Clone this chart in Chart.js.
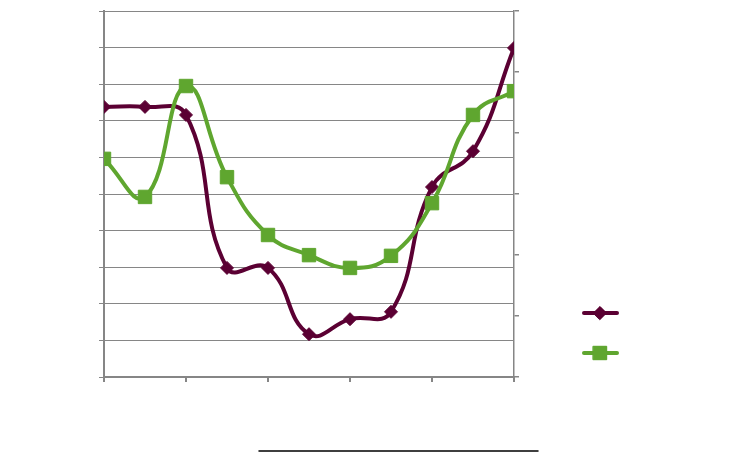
<!DOCTYPE html>
<html>
<head>
<meta charset="utf-8">
<script src="https://cdn.jsdelivr.net/npm/chart.js@4.4.0/dist/chart.umd.min.js"></script>
<style>
  html, body { margin: 0; padding: 0; background: #fff; }
  #wrap { width: 755px; height: 452px; }
</style>
</head>
<body>
<div id="wrap"><canvas id="chart" width="755" height="452"></canvas></div>
<script>
const xs = [0, 1, 2, 3, 4, 5, 6, 7, 8, 9, 10];
const seriesA = [7.38, 7.38, 7.16, 2.98, 2.98, 1.17, 1.58, 1.78, 5.19, 6.17, 8.99];
const seriesB = [5.96, 4.92, 7.95, 5.46, 3.88, 3.33, 2.98, 3.31, 4.75, 7.16, 7.81];

const purple = '#5b0033';
const green = '#5fa62f';
const axisGrey = '#868686';

const toPoints = (vals) => vals.map((v, i) => ({ x: xs[i], y: v }));

// legend on the right and the short rule at the bottom, no text in the original
const pluginExtras = {
  id: 'extras',
  afterDraw(chart) {
    const { ctx } = chart;
    ctx.save();
    const rows = [
      { y: 313, color: purple, style: 'rectRot', r: 6.5 },
      { y: 353, color: green, style: 'rect', r: 9.5 }
    ];
    rows.forEach(row => {
      ctx.strokeStyle = row.color;
      ctx.lineWidth = 4;
      ctx.lineCap = 'round';
      ctx.beginPath();
      ctx.moveTo(584, row.y);
      ctx.lineTo(617, row.y);
      ctx.stroke();
      ctx.fillStyle = row.color;
      ctx.lineWidth = 1;
      Chart.helpers.drawPoint(ctx, { pointStyle: row.style, radius: row.r, borderWidth: 1 }, 600, row.y);
      ctx.fill();
    });
    ctx.strokeStyle = '#000';
    ctx.lineWidth = 1.5;
    ctx.beginPath();
    ctx.moveTo(259, 451);
    ctx.lineTo(538, 451);
    ctx.stroke();
    ctx.restore();
  }
};

new Chart(document.getElementById('chart'), {
  type: 'line',
  data: {
    datasets: [
      {
        data: toPoints(seriesA),
        borderColor: purple,
        backgroundColor: purple,
        borderWidth: 4,
        pointStyle: 'rectRot',
        pointRadius: 6.5,
        pointBorderWidth: 1,
        tension: 0.45,
        borderCapStyle: 'round',
        borderJoinStyle: 'round',
        order: 2
      },
      {
        data: toPoints(seriesB),
        borderColor: green,
        backgroundColor: green,
        borderWidth: 4,
        pointStyle: 'rect',
        pointRadius: 9.5,
        pointBorderWidth: 1,
        tension: 0.45,
        borderCapStyle: 'round',
        borderJoinStyle: 'round',
        order: 1
      }
    ]
  },
  options: {
    responsive: false,
    animation: false,
    layout: { padding: { left: 99, right: 236, top: 11, bottom: 70 } },
    plugins: { legend: { display: false }, tooltip: { enabled: false } },
    scales: {
      x: {
        type: 'linear',
        min: 0,
        max: 10,
        ticks: { display: false, stepSize: 2 },
        grid: { drawOnChartArea: false, color: axisGrey, lineWidth: 2, tickLength: 5 },
        border: { color: axisGrey, width: 2 }
      },
      y: {
        min: 0,
        max: 10,
        ticks: { display: false, stepSize: 1 },
        grid: { color: axisGrey, lineWidth: 1, tickLength: 5 },
        border: { color: axisGrey, width: 2 }
      },
      y2: {
        position: 'right',
        min: 0,
        max: 6,
        ticks: { display: false, stepSize: 1 },
        grid: { drawOnChartArea: false, color: axisGrey, lineWidth: 1.5, tickLength: 5 },
        border: { color: axisGrey, width: 1.5 }
      }
    }
  },
  plugins: [pluginExtras]
});
</script>
</body>
</html>
